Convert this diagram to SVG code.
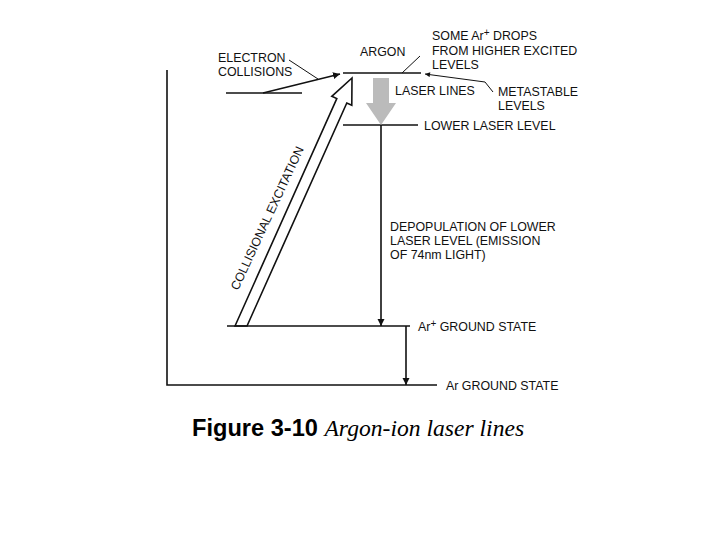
<svg xmlns="http://www.w3.org/2000/svg" width="720" height="540" viewBox="0 0 720 540">
<style>
text{font-family:"Liberation Sans",Arial,sans-serif;font-size:12.4px;fill:#111}
.l{stroke:#111;stroke-width:1.6;fill:none}
.t{stroke:#111;stroke-width:1;fill:none}
</style>
<defs>
<marker id="ah" viewBox="0 0 10 10" refX="10" refY="5" markerWidth="7" markerHeight="8" orient="auto" markerUnits="userSpaceOnUse"><path d="M0,0L10,5L0,10z" fill="#111"/></marker>
<marker id="as" viewBox="0 0 10 10" refX="10" refY="5" markerWidth="6" markerHeight="5" orient="auto" markerUnits="userSpaceOnUse"><path d="M0,0L10,5L0,10z" fill="#111"/></marker>
</defs>
<rect width="720" height="540" fill="#fff"/>
<g id="levels">
<path class="l" d="M167,70V385H437"/>
<line class="l" x1="227" y1="326" x2="410" y2="326"/>
<line class="l" x1="343" y1="125" x2="418" y2="125"/>
<line class="l" x1="343" y1="73" x2="421" y2="73"/>
<line class="l" x1="226" y1="93" x2="302" y2="93"/>
</g>
<g id="connectors">
<line class="l" x1="406" y1="326" x2="406" y2="385" marker-end="url(#ah)"/>
<line class="l" x1="381" y1="125" x2="381" y2="326" marker-end="url(#ah)"/>
<polygon points="373,78 389,78 389,103 396,103 381,125 366,103 373,103" fill="#bbb"/>
<line class="l" x1="263" y1="93" x2="340" y2="74" marker-end="url(#ah)"/>
<line class="t" x1="289" y1="60" x2="318" y2="79"/>
<line class="t" x1="402" y1="73" x2="420" y2="56"/>
<line class="t" x1="493" y1="92" x2="485" y2="82"/>
<line class="t" x1="485" y1="82" x2="425" y2="74" marker-end="url(#as)"/>
<polygon class="l" stroke-width="2" points="235,326 336.8,98.6 331.8,96.3 352,78 351.8,105.3 346.8,103 247,326"/>
</g>
<g id="labels">
<text x="218" y="62">ELECTRON</text><text x="218" y="76">COLLISIONS</text>
<text x="360" y="56">ARGON</text>
<text x="432" y="40">SOME  Ar<tspan dy="-4" font-size="10">+</tspan><tspan dy="4"> DROPS</tspan></text>
<text x="432" y="55">FROM HIGHER EXCITED</text><text x="432" y="69">LEVELS</text>
<text x="395" y="95">LASER LINES</text>
<text x="498" y="96">METASTABLE</text><text x="498" y="110">LEVELS</text>
<text x="424" y="130">LOWER LASER LEVEL</text>
<text x="390" y="231">DEPOPULATION OF LOWER</text>
<text x="390" y="245">LASER LEVEL (EMISSION</text>
<text x="390" y="259">OF 74nm LIGHT)</text>
<text x="418" y="331">Ar<tspan dy="-4" font-size="10">+</tspan><tspan dy="4">  GROUND STATE</tspan></text>
<text x="446" y="390">Ar GROUND STATE</text>
<text transform="translate(271,220) rotate(-65)" text-anchor="middle">COLLISIONAL EXCITATION</text>
</g>
<text x="192" y="436" style="font-size:23.6px;font-weight:bold;fill:#000">Figure 3-10 <tspan style="font-family:'Liberation Serif',serif;font-weight:normal;font-style:italic">Argon-ion laser lines</tspan></text>
</svg>
